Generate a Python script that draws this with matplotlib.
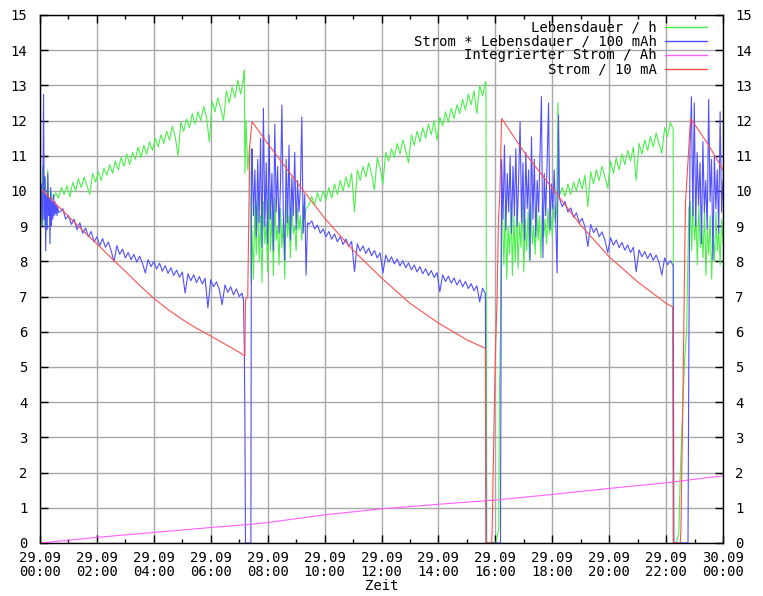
import matplotlib
matplotlib.use("Agg")
import matplotlib.pyplot as plt
import numpy as np

# time axis: hours since 29.09 00:00
hour_ticks = list(range(0, 25, 2))
tick_labels = ["29.09\n%02d:00" % h for h in range(0, 24, 2)] + ["30.09\n00:00"]

# ---------------- Lebensdauer / h (green) ----------------
green_start = [9.3, 10.2, 9.1, 10.7, 9.5, 9.0, 10.4, 9.6, 9.2, 10.6, 9.4, 9.8, 9.1, 10.0, 9.8]
green_rise1 = [9.75, 9.95, 9.80, 10.10, 9.90, 10.15, 9.83, 10.25, 10.00, 10.35,
               10.10, 10.40, 10.15, 9.90, 10.50, 10.25, 10.55, 10.30, 10.65, 10.45,
               10.75, 10.50, 10.85, 10.60, 10.95, 10.70, 11.05, 10.75, 11.10, 10.90,
               11.25, 10.95, 11.30, 11.05, 11.40, 11.15, 11.50, 11.25, 11.60, 11.35,
               11.70, 11.45, 11.85, 11.55, 11.00, 11.95, 11.70, 12.05, 11.80, 12.20,
               11.90, 12.25, 12.00, 12.40, 12.10, 11.40, 12.55, 12.25, 12.65, 12.35,
               12.00, 12.85, 12.50, 12.95, 12.65, 13.15, 12.75, 13.20]
green_tr1_t = [7.18, 7.2, 7.24, 7.3, 7.36, 7.42]
green_tr1_v = [13.44, 10.5, 12.0, 10.6, 11.25, 7.4]
green_noise1 = [8.9, 7.5, 9.6, 8.2, 9.9, 8.0, 9.3, 7.4, 9.7, 8.5, 9.1, 7.7, 10.1, 8.3,
                9.4, 7.6, 9.8, 8.6, 9.0, 7.9, 9.5, 8.4, 9.2, 7.5, 9.7, 8.7, 9.3, 8.1,
                9.6, 8.8, 9.0, 8.3, 9.5, 8.9, 9.3, 8.6, 9.6, 9.2, 9.5]
green_rise2 = [9.60, 9.85, 9.60, 9.95, 9.70, 10.00, 9.75, 10.10, 9.80, 10.20,
               9.90, 10.30, 10.00, 10.40, 10.10, 10.50, 9.41, 10.60, 10.30, 10.70,
               10.40, 10.80, 10.50, 10.03, 10.95, 10.65, 10.20, 11.10, 10.85, 11.20,
               10.95, 11.35, 11.05, 11.45, 11.15, 10.80, 11.60, 11.30, 11.70, 11.40,
               11.80, 11.50, 11.90, 11.60, 12.00, 11.45, 12.10, 11.85, 12.25, 11.95,
               12.35, 12.05, 12.45, 12.20, 12.60, 12.30, 12.75, 12.45, 12.85, 12.20,
               13.00, 12.70, 13.10]
green_tr2_t = [15.67, 15.7, 16.02, 16.12, 16.14, 16.18, 16.22]
green_tr2_v = [13.1, 0.0, 0.0, 0.4, 4.0, 5.9, 9.7]
green_noise2 = [9.2, 7.9, 9.6, 7.5, 9.0, 8.2, 9.7, 7.6, 9.3, 8.0, 9.5, 7.8, 9.1, 8.4,
                9.7, 7.7, 9.2, 8.3, 9.4, 8.0, 9.6, 8.5, 9.0, 8.2, 9.5, 8.6, 9.3, 8.1,
                9.6, 8.7, 9.2, 8.5, 9.5, 8.8, 9.3, 8.7, 9.6, 9.1, 9.4, 12.5]
green_rise3 = [9.85, 10.10, 9.85, 10.20, 9.90, 10.25, 10.00, 10.35, 10.05, 10.45,
               9.55, 10.55, 10.20, 10.60, 10.30, 10.70, 10.40, 10.08, 10.85, 10.50,
               10.95, 10.60, 11.05, 10.75, 11.15, 10.85, 11.25, 10.30, 11.35, 11.05,
               11.45, 11.15, 11.55, 11.25, 11.65, 11.35, 11.07, 11.80, 11.55, 11.95,
               11.75]
green_tr3_t = [22.27, 22.37, 22.45, 22.5, 22.55, 22.6, 22.65, 22.72, 22.8]
green_tr3_v = [0.0, 0.0, 0.3, 2.0, 3.1, 4.1, 5.2, 6.0, 9.5]
green_noise3 = [9.7, 8.3, 9.9, 8.6, 9.2, 7.9, 9.6, 8.4, 9.0, 8.1, 9.5, 7.6, 8.9, 8.2,
                9.3, 7.5, 8.8, 8.0, 9.4, 8.3, 8.9, 7.9, 9.2, 8.5]

# ---------------- Strom * Lebensdauer / 100 mAh (blue) ----------------
blue_start = [9.9, 9.4, 10.2, 9.0, 9.7, 12.75, 9.2, 10.4, 8.3, 9.9, 8.9, 10.5, 9.3,
              9.8, 8.5, 10.1, 9.0, 9.7, 9.2, 9.9, 9.3, 9.7, 9.35, 9.6, 9.3, 9.55, 9.4]
blue_fall1 = [9.40, 9.50, 9.20, 9.30, 9.05, 9.20, 8.90, 9.10, 8.80, 8.95,
              8.70, 8.85, 8.55, 8.70, 8.45, 8.65, 8.40, 8.55, 8.30, 7.99,
              8.45, 8.20, 8.35, 8.10, 8.25, 8.05, 8.20, 7.98, 8.15, 7.95,
              7.67, 8.05, 7.85, 8.00, 7.78, 7.95, 7.72, 7.88, 7.66, 7.82,
              7.60, 7.75, 7.55, 7.70, 7.10, 7.65, 7.45, 7.62, 7.40, 7.57,
              7.36, 7.52, 6.68, 7.48, 7.28, 7.42, 7.20, 6.77, 7.33, 7.12,
              7.28, 7.05, 7.22, 7.00, 7.10]
blue_tr1_t = [7.15, 7.18, 7.2, 7.22, 7.41, 7.43]
blue_tr1_v = [6.9, 5.5, 3.5, 0.0, 0.0, 10.5]
blue_noise1 = [11.2, 9.3, 10.6, 8.7, 10.9, 9.1, 11.5, 8.4, 12.35, 9.0, 10.8, 8.5, 11.6,
               9.2, 10.5, 8.3, 11.9, 9.4, 10.7, 8.8, 10.2, 12.44, 9.3, 8.04, 10.9, 9.1,
               11.3, 8.6, 10.4, 9.3, 11.1, 8.9, 10.3, 9.4, 10.1, 12.1, 8.8, 9.9, 7.61, 9.1]
blue_fall2 = [9.05, 9.15, 8.92, 9.03, 8.80, 8.92, 8.70, 8.85, 8.63, 8.78,
              8.56, 8.70, 8.48, 8.64, 8.42, 8.57, 7.71, 8.50, 8.29, 8.44,
              8.22, 8.38, 8.16, 8.31, 8.10, 8.24, 7.67, 8.18, 7.98, 8.13,
              7.93, 8.07, 7.87, 8.02, 7.82, 7.96, 7.76, 7.90, 7.70, 7.85,
              7.65, 7.79, 7.60, 7.74, 7.54, 7.68, 7.14, 7.62, 7.43, 7.58,
              7.38, 7.53, 7.33, 7.48, 7.28, 7.43, 7.23, 7.37, 7.17, 7.31,
              6.85, 7.24, 7.08]
blue_tr2_t = [15.68, 16.18]
blue_tr2_v = [0.0, 0.0]
blue_noise2 = [10.9, 9.2, 11.3, 8.9, 10.5, 9.4, 11.0, 8.8, 10.7, 9.3, 11.2, 9.0, 10.4,
               11.97, 9.1, 10.8, 8.6, 11.1, 9.5, 10.6, 8.04, 11.54, 9.2, 10.9, 8.7, 10.3,
               9.4, 11.0, 12.68, 8.1, 10.5, 9.3, 10.8, 12.5, 8.9, 10.2, 9.5, 10.6, 9.2,
               7.67, 12.16]
blue_fall3 = [9.80, 9.55, 9.70, 9.40, 9.52, 9.25, 9.38, 9.10, 9.22, 8.98,
              8.42, 9.05, 8.82, 8.95, 8.70, 8.84, 8.60, 8.25, 8.67, 8.46,
              8.61, 8.39, 8.54, 8.32, 8.47, 8.25, 8.40, 7.71, 8.33, 8.13,
              8.28, 8.08, 8.23, 8.03, 8.18, 7.98, 7.61, 8.10, 7.90, 8.02,
              7.88]
blue_tr3_t = [22.27, 22.77, 22.8]
blue_tr3_v = [0.0, 0.0, 5.4]
blue_noise3 = [11.2, 12.68, 9.3, 12.5, 9.0, 11.1, 9.6, 10.8, 8.5, 11.4, 9.4, 10.3, 8.9,
               12.6, 9.7, 10.9, 8.04, 11.0, 9.5, 10.6, 8.8, 12.25, 9.4, 10.3]

# ---------------- Integrierter Strom / Ah (magenta) ----------------
ah_t = [0, 2, 4, 6, 7.4, 8, 10, 12, 14, 16, 18, 20, 22, 24]
ah_v = [0.0, 0.16, 0.30, 0.44, 0.53, 0.58, 0.80, 0.97, 1.10, 1.22, 1.38, 1.55, 1.71, 1.91]

# ---------------- Strom / 10 mA (red) ----------------
red_t = [0, 0.5, 1, 1.5, 2, 2.5, 3, 3.5, 4, 4.5, 5, 5.5, 6, 6.5, 7, 7.2,
         7.22, 7.3, 7.37, 7.45, 8, 9, 10, 11, 12, 13, 14, 15, 15.65,
         15.67, 15.87, 15.89, 15.93, 15.97, 16.01, 16.06, 16.11, 16.16, 16.22,
         17, 18, 19, 20, 21, 22, 22.23, 22.25, 22.5, 22.52, 22.57, 22.62, 22.68,
         22.78, 22.86, 23.5, 24]
red_v = [10.08, 9.68, 9.28, 8.88, 8.5, 8.1, 7.72, 7.32, 6.95, 6.63, 6.35, 6.1, 5.88, 5.65, 5.42, 5.31,
         6.9, 7.0, 11.26, 11.97, 11.35, 10.28, 9.23, 8.32, 7.53, 6.81, 6.25, 5.77, 5.53,
         0.0, 0.0, 0.37, 2.27, 4.06, 5.58, 6.9, 9.18, 9.98, 12.06,
         11.12, 10.08, 9.03, 8.13, 7.42, 6.81, 6.71, 0.0, 0.0, 0.37, 3.0, 5.97, 9.66,
         10.97, 12.06, 11.3, 10.6]


def seg(t0, t1, vals):
    return np.linspace(t0, t1, len(vals)), np.asarray(vals, dtype=float)


def join(*parts):
    t = np.concatenate([np.asarray(p[0], dtype=float) for p in parts])
    v = np.concatenate([np.asarray(p[1], dtype=float) for p in parts])
    return t, v


green_t, green_v = join(
    seg(0.0, 0.42, green_start), seg(0.45, 7.15, green_rise1),
    (green_tr1_t, green_tr1_v), seg(7.45, 9.35, green_noise1),
    seg(9.45, 15.65, green_rise2), (green_tr2_t, green_tr2_v),
    seg(16.25, 18.2, green_noise2), seg(18.25, 22.25, green_rise3),
    (green_tr3_t, green_tr3_v), seg(22.85, 24.0, green_noise3))

blue_t, blue_v = join(
    seg(0.0, 0.65, blue_start), seg(0.7, 7.1, blue_fall1),
    (blue_tr1_t, blue_tr1_v), seg(7.45, 9.4, blue_noise1),
    seg(9.45, 15.65, blue_fall2), (blue_tr2_t, blue_tr2_v),
    seg(16.22, 18.22, blue_noise2), seg(18.25, 22.25, blue_fall3),
    (blue_tr3_t, blue_tr3_v), seg(22.84, 24.0, blue_noise3))

series = [
    ("Lebensdauer / h", green_t, green_v, "#4cf04c"),
    ("Strom * Lebensdauer / 100 mAh", blue_t, blue_v, "#5050ff"),
    ("Integrierter Strom / Ah", ah_t, ah_v, "#ff60ff"),
    ("Strom / 10 mA", red_t, red_v, "#ff5050"),
]

plt.rcParams["font.family"] = ["DejaVu Sans Mono"]
plt.rcParams["font.size"] = 10

fig = plt.figure(figsize=(7.63, 5.96), dpi=100)
ax = fig.add_axes([40 / 763, 53 / 596, 683 / 763, 528 / 596])

for label, t, v, c in series:
    ax.plot(t, v, color=c, lw=0.8)

ax.set_xlim(0, 24)
ax.set_ylim(0, 15)
ax.set_xticks(hour_ticks)
ax.set_xticklabels(tick_labels, linespacing=0.95)
ax.set_xticks(range(1, 24, 2), minor=True)
ax.set_yticks(range(0, 16))
ax.grid(True, which="major", color="#a8a8a8", lw=1.0)
ax.tick_params(which="major", direction="in", length=6, width=1,
               top=True, right=True, labelright=True, pad=6)
ax.tick_params(axis="x", which="minor", direction="in", length=3, width=1,
               top=True, bottom=True)
ax.tick_params(axis="y", which="major", pad=9)
for s in ax.spines.values():
    s.set_linewidth(1.0)
    s.set_color("black")
ax.set_xlabel("Zeit", labelpad=0)

# gnuplot-style key: right-aligned text followed by line sample
for i, (label, t, v, c) in enumerate(series):
    y = 0.977 - i * 0.0265
    ax.text(0.903, y, label, transform=ax.transAxes, ha="right", va="center")
    ax.plot([0.915, 0.977], [y, y], transform=ax.transAxes, color=c, lw=1.0,
            clip_on=False)

fig.savefig("out.png", dpi=100)
plt.close(fig)
